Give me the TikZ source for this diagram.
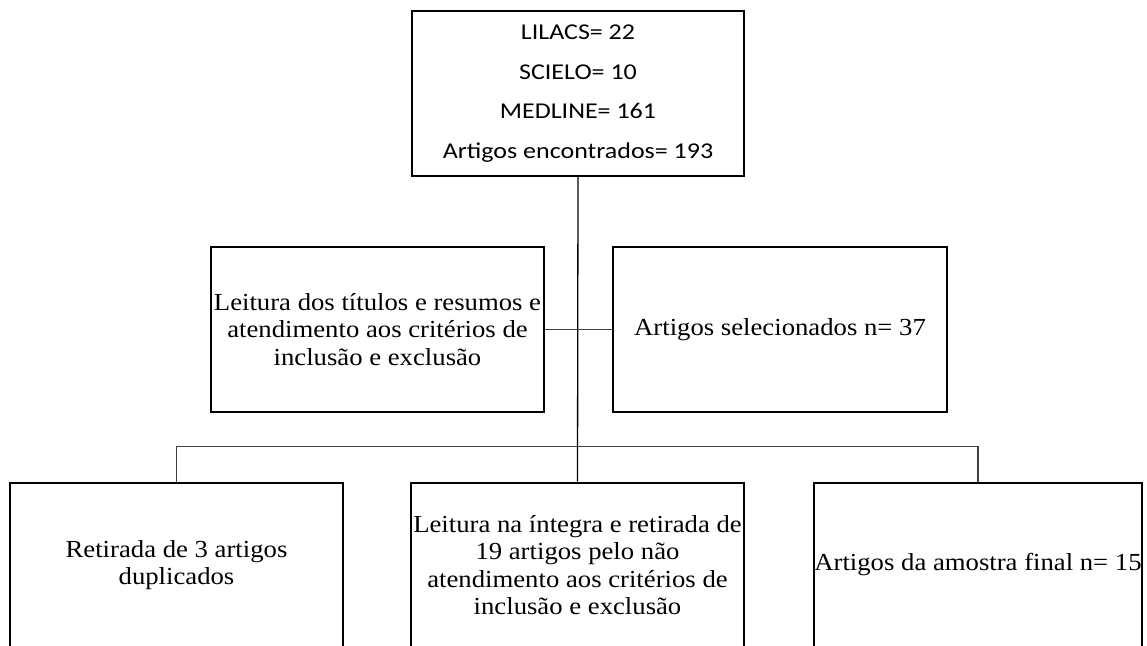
\documentclass[tikz,border=0pt]{standalone}
\usepackage{fontspec}
\setmainfont{Liberation Serif}
\newfontfamily\boxserif[FakeStretch=1.09]{Liberation Serif}
\newfontfamily\boxsans[FakeStretch=1.15]{Carlito}
\begin{document}
\begin{tikzpicture}[x=1pt,y=1pt,
  flowbox/.style={draw=black, line width=2pt, minimum width=#1, minimum height=165pt, inner sep=0pt, align=center},
  serifbox/.style={flowbox=#1, font=\boxserif\fontsize{24.5}{27.5}\selectfont},
  sansbox/.style={flowbox=#1, font=\boxsans\fontsize{22.6}{39.5}\selectfont},
  link/.style={draw=black!75, line width=1.3pt}]
\clip (0,0) rectangle (1147,-645);
\fill[white] (0,0) rectangle (1147,-645);
\node[sansbox=332pt] (top) at (578,-93.5) {LILACS= 22\\SCIELO= 10\\MEDLINE= 161\\Artigos encontrados= 193};
\node[serifbox=333pt] (midL) at (377.5,-329.5) {Leitura dos títulos e resumos e\\atendimento aos critérios de\\inclusão e exclusão};
\node[serifbox=334pt] (midR) at (780,-329.5) {Artigos selecionados n= 37};
\node[serifbox=333pt] (b1) at (176.5,-565) {Retirada de 3 artigos\\duplicados};
\node[serifbox=333pt] (b2) at (577.5,-565) {Leitura na íntegra e retirada de\\19 artigos pelo não\\atendimento aos critérios de\\inclusão e exclusão};
\node[serifbox=328pt] (b3) at (978,-565) {Artigos da amostra final n= 15};
\draw[link, draw=black] (top.south) -- (b2.north);
\draw[link] (midL.east) -- (midR.west);
\draw[link] (b1.north) -- ++(0,35) coordinate (hl) -| (b3.north);
\end{tikzpicture}
\end{document}
